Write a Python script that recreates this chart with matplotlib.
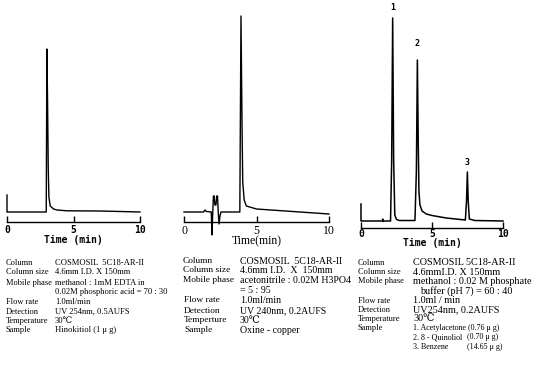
import matplotlib
matplotlib.use("Agg")
import matplotlib.pyplot as plt

W, H = 545, 367
DPI = 100

# ---------------- data ----------------
# Panel 1: Hinokitiol
t1 = [0.0, 0.0, 0.03, 2.95, 3.0, 3.05, 3.1, 3.15, 3.25, 3.5, 3.75, 4.5, 7.0, 10.0]
s1 = [17, 0, 0, 0, 163, 110, 45, 15, 6, 3, 2, 1.2, 1.0, 0]

# Panel 2: Oxine - copper
t2 = [0.0, 1.35, 1.45, 1.55, 1.88, 1.93, 1.97, 2.03, 2.08, 2.13, 2.2, 2.26, 2.31,
      2.36, 2.42, 2.48, 2.55, 3.85, 3.93, 4.0, 4.05, 4.15, 4.3, 5.0, 7.0, 10.0]
s2 = [0, 0, 2, 0.5, 0, -23, -5, 16, 16, 7, 7, 16, 16,
      0, -12, -4, 0, 0, 196, 90, 30, 12, 6, 3, 1, -2]

# Panel 3: Acetylacetone / 8-Quinoliol / Benzene
t3 = [0.0, 0.0, 0.03, 1.5, 1.53, 1.56, 1.6, 2.08, 2.16, 2.23, 2.3, 2.38, 2.5, 2.7,
      3.8, 3.9, 3.97, 4.03, 4.08, 4.15, 4.3, 4.6, 5.0, 6.0, 7.0, 7.35, 7.43, 7.49,
      7.55, 7.63, 8.0, 10.0]
s3 = [17, 0, 0, 0, 2, -0.5, 0, 0, 60, 203, 60, 6, 1.5, 0.5,
      0.5, 50, 161, 80, 30, 16, 10, 7, 5.5, 3, 1.5, 1, 20, 49,
      20, 2, 0.5, 0]

peak_labels = ["1", "2", "3"]
peak_times = [2.23, 3.97, 7.49]
peak_heights = [203, 161, 49]

tick_vals = [0, 5, 10]
tick_labels = ["0", "5", "10"]
xlabels = ["Time (min)", "Time(min)", "Time (min)"]

cond_labels1 = ["Column", "Column size", "Mobile phase", "", "Flow rate", "Detection",
                "Temperature", "Sample"]
cond_values1 = ["COSMOSIL  5C18-AR-II", "4.6mm I.D. X 150mm", "methanol : 1mM EDTA in",
                "0.02M phosphoric acid = 70 : 30", "1.0ml/min", "UV 254nm, 0.5AUFS",
                "30\u2103", "Hinokitiol (1 \u03bc g)"]

cond_labels2 = ["Column", "Column size", "Mobile phase", "", "Flow rate", "Detection",
                "Temperture", "Sample"]
cond_values2 = ["COSMOSIL  5C18-AR-II", "4.6mm I.D.  X  150mm",
                "acetonitrile : 0.02M H3PO4", "= 5 : 95", "1.0ml/min",
                "UV 240nm, 0.2AUFS", "30\u2103", "Oxine - copper"]

cond_labels3 = ["Column", "Column size", "Mobile phase", "", "Flow rate", "Detection",
                "Temperature", "Sample"]
cond_values3 = ["COSMOSIL 5C18-AR-II", "4.6mmI.D. X 150mm",
                "methanol : 0.02 M phosphate", "buffer (pH 7) = 60 : 40",
                "1.0ml / min", "UV254nm, 0.2AUFS", "30\u2103"]
sample_names3 = ["1. Acetylacetone (0.76 \u03bc g)", "2. 8 - Quinoliol", "3. Benzene"]
sample_amounts3 = ["", "(0.70 \u03bc g)", "(14.65 \u03bc g)"]

# ---------------- figure ----------------
fig = plt.figure(figsize=(W / DPI, H / DPI), dpi=DPI)
fig.patch.set_facecolor("white")
renderer = fig.canvas.get_renderer()

SERIF = ["Liberation Serif", "DejaVu Serif", "DejaVu Sans"]
MONO = ["DejaVu Sans Mono"]


def add_ax(x0, x1, ybot, ytop):
    return fig.add_axes([x0 / W, 1 - ybot / H, (x1 - x0) / W, (ybot - ytop) / H])


def style_ax(ax, ylim, spine_at, font, fsize, pad, lpad, xlabel, weight):
    ax.set_xlim(0, 10)
    ax.set_ylim(*ylim)
    ax.patch.set_alpha(0)
    for k in ["top", "right", "left"]:
        ax.spines[k].set_visible(False)
    ax.spines["bottom"].set_position(("data", spine_at))
    ax.spines["bottom"].set_linewidth(1.0)
    ax.set_yticks([])
    ax.set_xticks(tick_vals)
    ax.set_xticklabels(tick_labels, fontfamily=font, fontsize=fsize, fontweight=weight)
    ax.tick_params(axis="x", direction="in", length=4, width=1.0, pad=pad)
    ax.set_xlabel(xlabel, fontfamily=font, fontsize=fsize, fontweight=weight,
                  labelpad=lpad)


# Panel 1
ax1 = add_ax(7, 140, 222, 40)
ax1.plot(t1, s1, color="black", lw=1.0, clip_on=False)
style_ax(ax1, (-10, 172), -10, MONO, 7, 2, 0, xlabels[0], "bold")

# Panel 2
ax2 = add_ax(184, 329, 240, 12)
ax2.plot(t2, s2, color="black", lw=1.0, clip_on=False)
style_ax(ax2, (-28, 200), -10, SERIF, 8.5, 2, -1, xlabels[1], "normal")

# Panel 3
ax3 = add_ax(361, 503, 228, 10)
ax3.plot(t3, s3, color="black", lw=1.1, clip_on=False)
style_ax(ax3, (-7, 211), -7, MONO, 7, 1, -1, xlabels[2], "bold")
offsets = [10, 16, 9]
for lab, pt, ph, off in zip(peak_labels, peak_times, peak_heights, offsets):
    ax3.annotate(lab, (pt, ph), xytext=(0, off), textcoords="offset pixels",
                 ha="center", va="center", fontsize=6, fontweight="bold",
                 fontfamily=MONO)


# ---------------- condition text blocks ----------------
def fit_size(s, target_px):
    t = fig.text(0, 0, s, fontsize=10, fontfamily=SERIF)
    w = t.get_window_extent(renderer=renderer).width
    t.remove()
    return 10 * target_px / w


def text_px(x, y, s, size):
    return fig.text(x / W, 1 - y / H, s, ha="left", va="center", fontsize=size,
                    fontfamily=SERIF)


# Panel 1
lab1 = 6.0
val1 = fit_size("0.02M phosphoric acid = 70 : 30", 112)
ys1 = [262.7, 272.3, 282.7, 291.7, 302.3, 312.3, 321.3, 330.0]
for y, lab, val in zip(ys1, cond_labels1, cond_values1):
    text_px(5.7, y, lab, lab1)
    text_px(55, y, val, val1)

# Panel 2
lab2 = fit_size("Mobile phase", 51)
val2 = fit_size("acetonitrile : 0.02M H3PO4", 110)
ys2 = [261, 270.5, 280.3, 290.7, 300.5, 311, 320.3, 330.3]
xs2 = [182.7, 182.7, 182.7, 182.7, 184.5, 184, 184, 184]
for y, x, lab, val in zip(ys2, xs2, cond_labels2, cond_values2):
    text_px(x, y, lab, lab2)
    text_px(240, y, val, val2)

# Panel 3
lab3 = 6.0
val3 = fit_size("methanol : 0.02 M phosphate", 119)
smp3 = 5.8
ys3 = [262.7, 272.3, 281.3, 290.7, 300.7, 309.7, 318.7]
xv3 = [413.3, 413.3, 413.3, 420, 413.3, 413.3, 413.3]
for y, xv, lab, val in zip(ys3, xv3, cond_labels3, cond_values3):
    if lab:
        text_px(357.5, y, lab, lab3)
    text_px(xv, y, val, val3)
text_px(357.5, 328.0, cond_labels3[7], lab3)
name_ends = []
for y, name in zip([328.0, 337.3, 347.0], sample_names3):
    t = text_px(413.3, y, name, smp3)
    if name != sample_names3[0]:
        name_ends.append(t.get_window_extent(renderer=renderer).x1)
amt_x = max(457, max(name_ends) + 4)
for y, amt in zip([328.0, 337.3, 347.0], sample_amounts3):
    if amt:
        text_px(amt_x, y, amt, smp3)

fig.savefig("out.png", dpi=DPI)
